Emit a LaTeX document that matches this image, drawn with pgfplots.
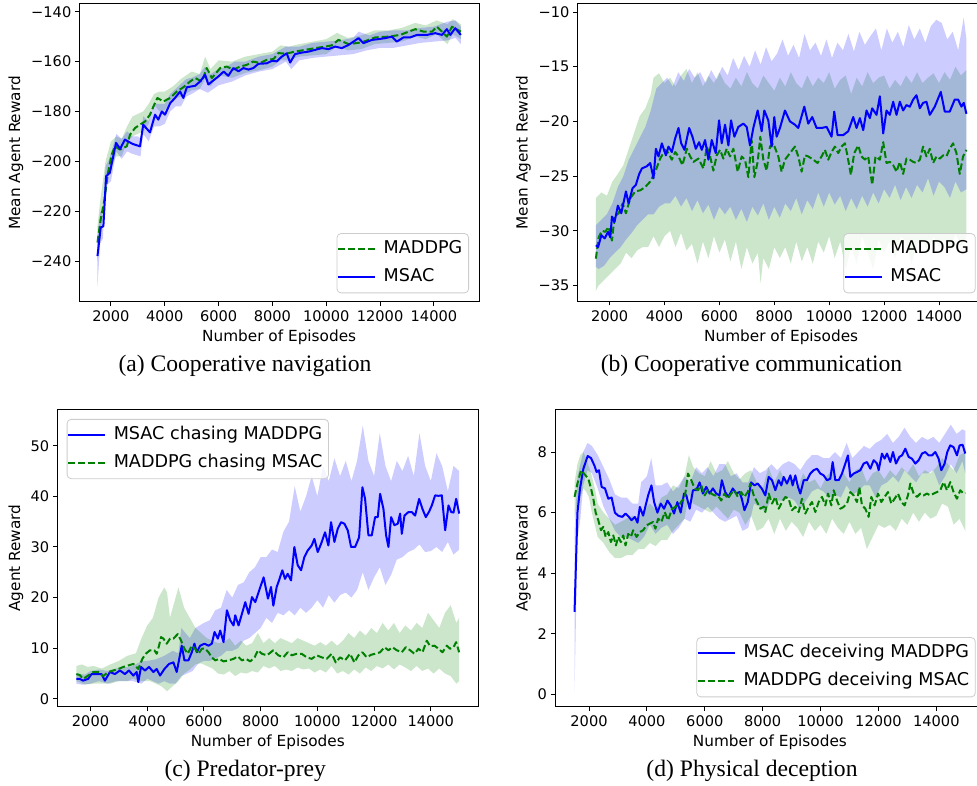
\documentclass[border=0pt]{standalone}
\usepackage{pgfplots}
\pgfplotsset{compat=1.18}
\usepackage{fontspec}
\setmainfont{DejaVu Sans}
\newfontfamily\capfont{Liberation Serif}
\definecolor{mplblue}{rgb}{0,0,1}
\definecolor{mplgreen}{rgb}{0,0.5,0}
\pgfplotsset{
 panel/.style={
  scale only axis, xmin=825, xmax=15675,
  xtick={2000,4000,6000,8000,10000,12000,14000},
  scaled x ticks=false, scaled y ticks=false,
  /pgf/number format/set thousands separator={},
  /pgf/number format/assume math mode=true,
  tick pos=left, tick align=outside, major tick length=2pt,
  every tick/.style={black, line width=0.5pt},
  axis line style={line width=0.5pt, black},
  tick label style={font=\fontsize{7.3}{8.5}\selectfont},
  xticklabel style={anchor=north, inner sep=0pt, yshift=-2.15pt},
  yticklabel style={anchor=east, inner sep=0pt, xshift=-1.8pt},
  label style={font=\fontsize{7.65}{9}\selectfont},
  xlabel={Number of Episodes},
  legend cell align=left,
  legend image code/.code={\draw[##1] (0pt,0pt) -- (18.5pt,0pt);},
  legend style={font=\fontsize{8.8}{10}\selectfont, draw=black!20, rounded corners=2pt,
    fill=white, fill opacity=0.8, text opacity=1, inner xsep=0pt, inner ysep=2.2pt,
    row sep=2.45pt, /tikz/column sep=0.7pt,
    nodes={inner xsep=3.15pt, inner ysep=1.5pt, text height=6.5pt, text depth=1.9pt}},
 },
 mean/.style={line width=1pt, line join=round},
 dash/.style={dash pattern=on 3.45pt off 1.5pt},
 band/.style={draw=none, fill opacity=0.2, forget plot},
}
\begin{document}
\begin{tikzpicture}
\useasboundingbox (0,0) rectangle (488.5pt,392.5pt);
% ---------------- (a) ----------------
\begin{axis}[panel, at={(39.65pt,241.65pt)}, anchor=south west, width=199.85pt, height=148.85pt,
  ymin=-256.3, ymax=-136.9, ytick={-240,-220,-200,-180,-160,-140},
  yticklabels={−240,−220,−200,−180,−160,−140},
  ylabel={Mean Agent Reward},
  xlabel style={at={(axis description cs:0.5,-0.1203)}, anchor=center},
  ylabel style={at={(axis description cs:-0.1584,0.5)}, anchor=center},
  legend style={at={(1,0)}, anchor=south east, xshift=-5pt, yshift=4.2pt}]
\addplot[band, fill=mplgreen] table[row sep=\\]{x y\\
1500 -226\\ 1600 -216\\ 1700 -208\\ 1800 -200\\ 2000 -192\\ 2200 -190\\ 2400 -191\\ 2600 -186\\ 2800 -182\\ 3000 -181\\ 3200 -180\\ 3400 -177\\ 3600 -173\\ 3800 -172\\ 4000 -172\\ 4300 -170\\ 4600 -167\\ 5000 -164\\ 5300 -165\\ 5500 -158\\ 5700 -163\\ 6000 -159.5\\ 6500 -160\\ 7000 -158\\ 7500 -157\\ 8000 -156\\ 8300 -153.5\\ 8600 -154\\ 9000 -153\\ 9500 -152\\ 10000 -151\\ 10400 -148.5\\ 10800 -150.5\\ 11300 -149.5\\ 11800 -147.5\\ 12300 -147.5\\ 12800 -146.5\\ 13300 -144.5\\ 13700 -145.5\\ 14100 -143.5\\ 14500 -145\\ 14700 -143\\ 15000 -145\\
15000 -151\\ 14700 -149\\ 14500 -153\\ 14100 -149\\ 13700 -151\\ 13300 -150\\ 12800 -152\\ 12300 -152.5\\ 11800 -153\\ 11300 -155\\ 10800 -155.5\\ 10400 -154\\ 10000 -157\\ 9500 -157.5\\ 9000 -158\\ 8600 -159.5\\ 8300 -159.5\\ 8000 -162\\ 7500 -163.5\\ 7000 -164.5\\ 6500 -166.5\\ 6000 -165.5\\ 5700 -170\\ 5500 -167\\ 5300 -171\\ 5000 -171.5\\ 4600 -174\\ 4300 -175\\ 4000 -179.5\\ 3800 -180\\ 3600 -177\\ 3400 -185\\ 3200 -188\\ 3000 -189\\ 2800 -190\\ 2600 -192\\ 2400 -198\\ 2200 -198\\ 2000 -202\\ 1800 -209\\ 1700 -222\\ 1600 -230\\ 1500 -240\\};
\addplot[band, fill=mplblue] table[row sep=\\]{x y\\
1500 -230\\ 1600 -220\\ 1700 -222\\ 1800 -202\\ 1900 -200\\ 2000 -197\\ 2200 -189\\ 2400 -191\\ 2600 -188\\ 2800 -190\\ 3000 -190\\ 3100 -191\\ 3200 -182\\ 3400 -184\\ 3600 -177\\ 3800 -177\\ 4000 -177\\ 4200 -173\\ 4400 -171\\ 4600 -169\\ 4800 -167\\ 5000 -166.5\\ 5300 -165\\ 5500 -162\\ 5700 -165\\ 6000 -163\\ 6300 -162\\ 6600 -160\\ 7000 -160\\ 7500 -158\\ 8000 -157\\ 8500 -154\\ 9000 -154\\ 9500 -152.5\\ 10000 -152\\ 10500 -151.5\\ 11000 -150.5\\ 11200 -148\\ 11600 -149.5\\ 12000 -148\\ 12500 -147.5\\ 13000 -147.5\\ 13500 -146.5\\ 14000 -146\\ 14500 -144\\ 14800 -143.5\\ 15000 -146\\
15000 -153\\ 14800 -150.5\\ 14500 -151.5\\ 14000 -152\\ 13500 -152.5\\ 13000 -153.5\\ 12500 -154.5\\ 12000 -154.5\\ 11500 -155.5\\ 11000 -157\\ 10500 -157.5\\ 10000 -158\\ 9500 -158.5\\ 9000 -159.5\\ 8700 -163\\ 8500 -160\\ 8000 -163\\ 7500 -164\\ 7000 -165.5\\ 6500 -168\\ 6000 -169.5\\ 5600 -172.5\\ 5300 -171\\ 5000 -173\\ 4800 -174\\ 4600 -178\\ 4400 -178\\ 4200 -180\\ 4000 -185\\ 3800 -186\\ 3600 -186\\ 3400 -192\\ 3200 -189\\ 3100 -198\\ 2800 -197\\ 2600 -196\\ 2400 -199\\ 2200 -196\\ 2000 -208\\ 1800 -210\\ 1700 -231\\ 1600 -233\\ 1500 -250\\};
\addplot[mean, dash, mplgreen] table[row sep=\\]{x y\\
1500 -232.6\\ 1620 -223.3\\ 1760 -215.3\\ 1890 -204.6\\ 2030 -197.3\\ 2150 -194\\ 2340 -195.3\\ 2590 -194\\ 2710 -189.3\\ 2900 -186.6\\ 3080 -185.3\\ 3270 -184\\ 3450 -181.3\\ 3580 -178\\ 3725 -174.6\\ 3950 -176\\ 4200 -174.6\\ 4450 -172\\ 4690 -170.3\\ 4940 -168\\ 5130 -166.6\\ 5380 -168\\ 5560 -162.6\\ 5750 -166.6\\ 6060 -162.6\\ 6300 -162\\ 6550 -163.2\\ 6800 -162\\ 7050 -161.3\\ 7290 -160\\ 7540 -160.6\\ 7790 -159.3\\ 8040 -159\\ 8220 -156.6\\ 8470 -156.8\\ 8600 -156.6\\ 8840 -156\\ 9220 -155.3\\ 9590 -154.6\\ 9960 -154\\ 10200 -153.5\\ 10455 -151.3\\ 10830 -153\\ 11320 -152.3\\ 11820 -150.3\\ 12310 -150\\ 12750 -149.3\\ 13060 -148\\ 13310 -147\\ 13620 -148\\ 13930 -148\\ 14110 -146\\ 14300 -148\\ 14480 -150\\ 14670 -146\\ 15000 -148\\};
\addlegendentry{MADDPG}
\addplot[mean, mplblue] table[row sep=\\]{x y\\
1500 -238\\ 1620 -226.6\\ 1720 -226\\ 1820 -206\\ 1960 -204.6\\ 2190 -192.6\\ 2340 -195\\ 2520 -191.3\\ 2800 -193\\ 3080 -194\\ 3200 -185.3\\ 3450 -188.4\\ 3640 -181.3\\ 3760 -183.3\\ 3890 -180\\ 4010 -181.3\\ 4200 -176.7\\ 4380 -174.6\\ 4570 -172\\ 4690 -174.6\\ 4820 -170.3\\ 5130 -169.7\\ 5310 -168\\ 5500 -165.3\\ 5620 -169.2\\ 5800 -167.6\\ 5990 -166\\ 6190 -164\\ 6360 -165.7\\ 6550 -162.6\\ 6740 -163.9\\ 6920 -162.6\\ 7110 -163.2\\ 7290 -162.6\\ 7480 -160.9\\ 7790 -160.7\\ 7980 -159.7\\ 8160 -159.9\\ 8350 -158\\ 8530 -156.7\\ 8660 -160.4\\ 8840 -157\\ 9090 -156.4\\ 9340 -156\\ 9590 -155.3\\ 9840 -154.6\\ 10080 -155\\ 10330 -154\\ 10580 -154.6\\ 10830 -153.3\\ 11200 -150.6\\ 11380 -152.6\\ 11700 -151.3\\ 11940 -151\\ 12190 -150.6\\ 12440 -150\\ 12620 -152\\ 12870 -150.3\\ 13120 -150.3\\ 13370 -149.3\\ 13740 -149.3\\ 14050 -148.6\\ 14300 -149.3\\ 14480 -147\\ 14610 -149.3\\ 14790 -146.6\\ 15000 -149.3\\};
\addlegendentry{MSAC}
\end{axis}
% ---------------- (b) ----------------
\begin{axis}[panel, at={(288.68pt,241.75pt)}, anchor=south west, width=203.8pt, height=148.85pt,
  ymin=-36.47, ymax=-9.24, ytick={-35,-30,-25,-20,-15,-10},
  yticklabels={−35,−30,−25,−20,−15,−10},
  ylabel={Mean Agent Reward},
  xlabel style={at={(axis description cs:0.5,-0.121)}, anchor=center},
  ylabel style={at={(axis description cs:-0.1325,0.5)}, anchor=center},
  legend style={at={(1,0)}, anchor=south east, xshift=-4.65pt, yshift=4.1pt}]
\addplot[band, fill=mplgreen] table[row sep=\\]{x y\\
1500 -27\\ 1700 -26.5\\ 1900 -26.8\\ 2100 -25.5\\ 2300 -24.8\\ 2500 -24\\ 2700 -22.5\\ 2900 -21\\ 3100 -19.5\\ 3300 -18.8\\ 3500 -17.5\\ 3600 -16\\ 3800 -15.6\\ 4000 -16.5\\ 4200 -16\\ 4400 -16.8\\ 4600 -15.8\\ 4800 -15.2\\ 5000 -16.5\\ 5200 -15.5\\ 5400 -16.8\\ 5600 -15.8\\ 5800 -16.5\\ 6000 -15.5\\ 6200 -16.5\\ 6400 -17\\ 6600 -16\\ 6800 -16.8\\ 7000 -15.5\\ 7200 -16.5\\ 7400 -17\\ 7600 -15.8\\ 7800 -16.5\\ 8000 -17.2\\ 8200 -16\\ 8400 -16.8\\ 8600 -15.5\\ 8800 -16.5\\ 9000 -17\\ 9200 -15.8\\ 9400 -16.8\\ 9600 -16\\ 9800 -16.5\\ 10000 -15.5\\ 10200 -17\\ 10400 -16.2\\ 10600 -15.8\\ 10800 -17.5\\ 11000 -16\\ 11200 -16.8\\ 11400 -15.5\\ 11600 -16.5\\ 11800 -16\\ 12000 -15.8\\ 12200 -17\\ 12400 -16.2\\ 12600 -16.8\\ 12800 -15.8\\ 13000 -16.5\\ 13200 -15.5\\ 13400 -16.5\\ 13600 -16\\ 13800 -15.6\\ 14000 -16.5\\ 14200 -15.5\\ 14400 -16.2\\ 14600 -15\\ 14800 -15.8\\ 15000 -15.3\\
15000 -30.5\\ 14800 -31.5\\ 14600 -30.2\\ 14400 -32\\ 14200 -30.8\\ 14000 -31.5\\ 13800 -30.5\\ 13600 -32\\ 13400 -30.8\\ 13200 -31.2\\ 13000 -33\\ 12800 -31\\ 12600 -30.5\\ 12400 -32.5\\ 12200 -31\\ 12000 -32\\ 11800 -30.8\\ 11600 -33.5\\ 11400 -32\\ 11200 -30.5\\ 11000 -33\\ 10800 -31.5\\ 10600 -33.5\\ 10400 -31\\ 10200 -32.5\\ 10000 -30.5\\ 9800 -32\\ 9600 -31\\ 9400 -33\\ 9200 -31.5\\ 9000 -32.8\\ 8800 -31\\ 8600 -33\\ 8400 -31.5\\ 8200 -32.5\\ 8000 -31.5\\ 7800 -33.5\\ 7600 -32.5\\ 7500 -34.8\\ 7400 -32\\ 7200 -33\\ 7000 -31.5\\ 6800 -33.5\\ 6600 -31\\ 6400 -32.8\\ 6200 -30.8\\ 6000 -32\\ 5800 -30.5\\ 5600 -32.5\\ 5400 -31\\ 5200 -33\\ 5000 -31.2\\ 4800 -31.8\\ 4600 -30.2\\ 4400 -31.5\\ 4200 -30\\ 4000 -30.5\\ 3800 -31.5\\ 3600 -30.5\\ 3400 -31.5\\ 3200 -31.5\\ 3000 -31.8\\ 2800 -32.5\\ 2600 -32\\ 2400 -33\\ 2200 -33.5\\ 2000 -34\\ 1800 -34.5\\ 1600 -35\\ 1500 -35.5\\};
\addplot[band, fill=mplblue] table[row sep=\\]{x y\\
1500 -29.5\\ 1700 -29\\ 1900 -28.5\\ 2100 -27.5\\ 2300 -26\\ 2500 -25\\ 2700 -23.5\\ 2900 -22.5\\ 3100 -21.5\\ 3300 -20.5\\ 3500 -19\\ 3700 -17\\ 3900 -16.5\\ 4100 -16\\ 4300 -16.8\\ 4500 -15.5\\ 4700 -16.3\\ 4900 -15.2\\ 5100 -16\\ 5300 -15.5\\ 5500 -16.5\\ 5700 -15.3\\ 5900 -16.2\\ 6100 -15\\ 6300 -15.8\\ 6500 -14.2\\ 6700 -15.3\\ 6900 -14\\ 7100 -15\\ 7300 -13.5\\ 7500 -14.8\\ 7700 -13.2\\ 7900 -14.5\\ 8100 -13.8\\ 8300 -12.5\\ 8500 -14\\ 8700 -13\\ 8900 -14.2\\ 9100 -12\\ 9300 -13.5\\ 9500 -12.8\\ 9700 -14\\ 9900 -12.5\\ 10100 -14.2\\ 10300 -12.8\\ 10500 -13.5\\ 10700 -12\\ 10900 -13.6\\ 11100 -11.8\\ 11300 -13\\ 11500 -12.2\\ 11700 -11.5\\ 11900 -13.5\\ 12100 -11.5\\ 12300 -12.8\\ 12500 -11.8\\ 12700 -13.2\\ 12900 -11.2\\ 13100 -12.5\\ 13300 -11.5\\ 13500 -12.8\\ 13700 -11.3\\ 13900 -10.7\\ 14100 -11\\ 14300 -12.5\\ 14500 -11.8\\ 14700 -13.5\\ 14900 -10.5\\ 15000 -12.5\\
15000 -26.2\\ 14800 -26.5\\ 14600 -25.5\\ 14400 -27\\ 14200 -26\\ 14000 -25.5\\ 13800 -26.8\\ 13600 -25.2\\ 13400 -26.5\\ 13200 -25.8\\ 13000 -27\\ 12800 -26\\ 12600 -27.2\\ 12400 -25.8\\ 12200 -27\\ 12000 -26.2\\ 11800 -27.5\\ 11600 -26.5\\ 11400 -27.8\\ 11200 -26.8\\ 11000 -28\\ 10800 -27\\ 10600 -28.2\\ 10400 -26.8\\ 10200 -27.6\\ 10000 -26.5\\ 9800 -27.8\\ 9600 -26.5\\ 9400 -28\\ 9200 -27.2\\ 9000 -28.5\\ 8800 -27\\ 8600 -28.2\\ 8400 -27.5\\ 8200 -28.8\\ 8000 -27.8\\ 7800 -29\\ 7600 -27.5\\ 7400 -28.6\\ 7200 -27.8\\ 7000 -29.2\\ 6800 -28\\ 6600 -29\\ 6400 -27.8\\ 6200 -28.5\\ 6000 -27.8\\ 5800 -29\\ 5600 -27.6\\ 5400 -28.4\\ 5200 -27.2\\ 5000 -28.2\\ 4800 -27\\ 4600 -27.8\\ 4400 -26.8\\ 4200 -27.5\\ 4000 -27.5\\ 3800 -27.8\\ 3600 -28.5\\ 3400 -28.5\\ 3200 -29\\ 3000 -29.5\\ 2800 -30.2\\ 2600 -30.8\\ 2400 -31.5\\ 2200 -32\\ 2000 -32.5\\ 1800 -33.2\\ 1600 -33.5\\ 1500 -33.3\\};
\addplot[mean, dash, mplgreen] table[row sep=\\]{x y\\
1500 -32.55\\ 1600 -30.6\\ 1720 -30.0\\ 1840 -30.1\\ 1960 -29.65\\ 2085 -30.9\\ 2180 -28.7\\ 2330 -28.4\\ 2473 -27.5\\ 2595 -28.4\\ 2750 -27.05\\ 2933 -26.4\\ 3115 -26.3\\ 3297 -26.0\\ 3479 -25.5\\ 3661 -24.6\\ 3842 -23.4\\ 4024 -22.6\\ 4145 -22.9\\ 4266 -23.5\\ 4388 -22.8\\ 4509 -23.2\\ 4654 -24.0\\ 4812 -22.5\\ 4933 -23.2\\ 5054 -23.7\\ 5236 -23.4\\ 5418 -24.3\\ 5539 -22.3\\ 5660 -23.2\\ 5781 -24.5\\ 5903 -23.1\\ 6024 -22.6\\ 6145 -23.4\\ 6266 -22.5\\ 6387 -23.2\\ 6509 -22.5\\ 6666 -24.6\\ 6812 -23.2\\ 6933 -23.5\\ 7054 -25.1\\ 7175 -21.7\\ 7272 -25.1\\ 7394 -23.7\\ 7490 -21.4\\ 7600 -23.5\\ 7721 -24.5\\ 7842 -22.3\\ 7963 -22.0\\ 8145 -23.2\\ 8267 -24.6\\ 8388 -23.5\\ 8570 -22.9\\ 8752 -22.3\\ 8873 -23.2\\ 8995 -24.6\\ 9116 -23.1\\ 9237 -23.2\\ 9419 -23.5\\ 9577 -23.8\\ 9722 -23.2\\ 9843 -22.6\\ 9965 -23.5\\ 10086 -22.8\\ 10208 -22.3\\ 10329 -22.9\\ 10450 -22.3\\ 10572 -22.0\\ 10669 -23.2\\ 10790 -24.9\\ 10911 -22.9\\ 11057 -22.2\\ 11178 -23.2\\ 11299 -23.5\\ 11421 -23.2\\ 11566 -25.8\\ 11687 -23.2\\ 11845 -23.5\\ 11967 -21.9\\ 12088 -23.8\\ 12209 -23.7\\ 12331 -24.0\\ 12452 -24.6\\ 12573 -23.7\\ 12694 -24.8\\ 12815 -23.4\\ 12937 -23.5\\ 13058 -23.7\\ 13179 -23.8\\ 13301 -23.5\\ 13422 -22.3\\ 13543 -23.2\\ 13665 -22.5\\ 13786 -23.8\\ 13907 -23.2\\ 14029 -23.4\\ 14150 -23.1\\ 14271 -23.2\\ 14392 -22.5\\ 14514 -22.0\\ 14635 -22.9\\ 14756 -24.8\\ 14877 -23.2\\ 15000 -22.6\\};
\addlegendentry{MADDPG}
\addplot[mean, mplblue] table[row sep=\\]{x y\\
1500 -31.33\\ 1580 -31.5\\ 1700 -30.4\\ 1820 -30.7\\ 1940 -30.1\\ 2025 -30.6\\ 2085 -28.7\\ 2180 -29.2\\ 2300 -27.7\\ 2425 -28.4\\ 2595 -26.4\\ 2690 -27.5\\ 2836 -26.1\\ 2957 -25.8\\ 3078 -24.8\\ 3176 -24.3\\ 3357 -24.1\\ 3479 -23.8\\ 3600 -25.2\\ 3685 -22.5\\ 3782 -23.2\\ 3903 -22.0\\ 4048 -23.1\\ 4145 -22.3\\ 4266 -22.8\\ 4388 -21.55\\ 4509 -20.6\\ 4606 -22.0\\ 4727 -22.6\\ 4897 -20.6\\ 5018 -21.4\\ 5139 -22.5\\ 5260 -21.9\\ 5357 -22.6\\ 5478 -21.7\\ 5600 -23.5\\ 5721 -21.7\\ 5866 -22.9\\ 5987 -19.9\\ 6084 -22.0\\ 6205 -20.3\\ 6327 -22.2\\ 6424 -19.9\\ 6545 -21.4\\ 6690 -20.5\\ 6872 -20.2\\ 6994 -20.5\\ 7115 -22.2\\ 7236 -20.6\\ 7394 -19.0\\ 7539 -20.9\\ 7636 -19.0\\ 7781 -19.9\\ 7903 -22.3\\ 7999 -19.6\\ 8085 -21.4\\ 8206 -20.6\\ 8388 -19.0\\ 8570 -20.0\\ 8752 -20.3\\ 8873 -20.6\\ 9092 -18.65\\ 9237 -20.2\\ 9383 -19.6\\ 9540 -20.6\\ 9722 -20.6\\ 9904 -20.5\\ 10086 -21.4\\ 10183 -19.1\\ 10305 -21.25\\ 10511 -21.25\\ 10693 -20.9\\ 10875 -19.6\\ 10996 -20.6\\ 11117 -19.7\\ 11239 -20.8\\ 11360 -19.0\\ 11481 -19.7\\ 11566 -18.8\\ 11724 -19.4\\ 11845 -17.7\\ 11967 -21.1\\ 12088 -19.0\\ 12209 -19.4\\ 12331 -18.2\\ 12452 -19.4\\ 12573 -18.2\\ 12694 -19.0\\ 12815 -18.5\\ 12937 -18.65\\ 13058 -18.0\\ 13179 -17.6\\ 13301 -18.8\\ 13422 -18.3\\ 13543 -18.2\\ 13665 -19.4\\ 13846 -18.65\\ 13968 -17.9\\ 14065 -17.3\\ 14210 -19.1\\ 14392 -19.1\\ 14574 -18.0\\ 14696 -18.0\\ 14817 -18.65\\ 14902 -18.3\\ 15000 -19.3\\};
\addlegendentry{MSAC}
\end{axis}
% ---------------- (c) ----------------
\begin{axis}[panel, at={(28.6pt,39.15pt)}, anchor=south west, width=210.55pt, height=148.7pt,
  ymin=-1.55, ymax=57.2, ytick={0,10,20,30,40,50},
  ylabel={Agent Reward},
  xlabel style={at={(axis description cs:0.5,-0.1204)}, anchor=center},
  ylabel style={at={(axis description cs:-0.0978,0.5)}, anchor=center},
  legend style={at={(0,1)}, anchor=north west, xshift=4.75pt, yshift=-4.85pt}]
\addplot[band, fill=mplblue] table[row sep=\\]{x y\\
1500 5\\ 1800 4.8\\ 2000 5.5\\ 2300 5.8\\ 2600 5.5\\ 2900 6\\ 3200 6.2\\ 3500 6.5\\ 3800 7.5\\ 4000 7.5\\ 4300 7.8\\ 4600 8.5\\ 4900 9.5\\ 5100 9\\ 5200 14\\ 5500 12\\ 5700 14\\ 6000 15\\ 6200 15.5\\ 6400 17.5\\ 6600 18\\ 6800 21.5\\ 7000 20\\ 7200 22.5\\ 7400 23\\ 7600 25\\ 7800 26\\ 8000 28\\ 8200 28\\ 8400 29.5\\ 8600 29\\ 8800 33\\ 9000 35\\ 9200 42\\ 9400 37\\ 9600 40\\ 9800 44\\ 10000 40\\ 10200 46\\ 10400 43\\ 10600 47.5\\ 10800 44\\ 11000 47\\ 11200 43\\ 11400 47\\ 11600 54\\ 11800 47\\ 12000 44\\ 12200 52.5\\ 12400 46\\ 12600 43\\ 12800 47\\ 13000 45\\ 13200 48\\ 13400 44\\ 13600 52.5\\ 13800 46\\ 14000 43\\ 14200 48.5\\ 14400 46\\ 14600 41\\ 14800 46\\ 15000 45\\
15000 29.5\\ 14800 28.5\\ 14600 31\\ 14400 29\\ 14200 30\\ 14000 29.2\\ 13800 29\\ 13600 30.5\\ 13400 29.5\\ 13200 29\\ 13000 28\\ 12800 27.5\\ 12600 24.5\\ 12400 22.5\\ 12200 26\\ 12000 24\\ 11800 21.5\\ 11600 25\\ 11400 21.5\\ 11200 20\\ 11000 21\\ 10800 20.5\\ 10600 19\\ 10400 20.5\\ 10200 18\\ 10000 19.5\\ 9800 18\\ 9600 17\\ 9400 18\\ 9200 16.5\\ 9000 17.5\\ 8800 16.5\\ 8600 17\\ 8400 15\\ 8200 16\\ 8000 14\\ 7800 13\\ 7600 12\\ 7400 11.5\\ 7200 10\\ 7000 9.5\\ 6800 9.5\\ 6600 8.5\\ 6400 8\\ 6200 7.5\\ 6000 7.5\\ 5800 7\\ 5600 5.5\\ 5400 5\\ 5200 4.5\\ 5000 3\\ 4800 3\\ 4600 3.5\\ 4400 3\\ 4200 3.5\\ 4000 4\\ 3800 3\\ 3500 3.5\\ 3200 3.5\\ 2900 3.5\\ 2600 3\\ 2300 3.5\\ 2000 3\\ 1700 2.8\\ 1500 3\\};
\addplot[band, fill=mplgreen] table[row sep=\\]{x y\\
1500 6.5\\ 1700 6.8\\ 1900 6.3\\ 2100 6.5\\ 2400 6\\ 2700 6.8\\ 3000 7.5\\ 3300 8.5\\ 3600 9\\ 3800 12\\ 4000 14.5\\ 4200 16\\ 4400 20\\ 4600 22\\ 4700 21\\ 4800 16\\ 5000 20\\ 5100 22\\ 5300 18\\ 5500 16\\ 5700 14\\ 5900 13\\ 6100 12\\ 6300 11.5\\ 6500 11\\ 6700 11.2\\ 6900 12\\ 7100 10.5\\ 7300 11.5\\ 7500 10.5\\ 7700 11\\ 7900 13\\ 8100 11\\ 8300 12\\ 8500 11\\ 8700 12\\ 8900 11.5\\ 9100 11\\ 9300 12\\ 9500 11.5\\ 9700 11\\ 9900 10.5\\ 10100 11.2\\ 10300 10.5\\ 10500 11.5\\ 10700 10.5\\ 10900 11.5\\ 11100 13\\ 11300 12\\ 11500 13.5\\ 11700 12.5\\ 11900 14\\ 12100 13\\ 12300 15\\ 12500 13.5\\ 12700 15\\ 12900 13\\ 13100 14.5\\ 13300 13.5\\ 13500 15\\ 13700 14\\ 13900 17\\ 14100 15.5\\ 14300 14\\ 14500 17\\ 14700 18.5\\ 14900 15\\ 15000 16\\
15000 3.5\\ 14900 3\\ 14700 4.5\\ 14500 5\\ 14300 6\\ 14100 5\\ 13900 6\\ 13700 5.5\\ 13500 6.5\\ 13300 5.5\\ 13100 6.2\\ 12900 6.8\\ 12700 5.8\\ 12500 6.8\\ 12300 6\\ 12100 6.5\\ 11900 5.5\\ 11700 6.2\\ 11500 5\\ 11300 5.8\\ 11100 4.8\\ 10900 5.5\\ 10700 5\\ 10500 6.5\\ 10300 5.2\\ 10100 5.8\\ 9900 5.2\\ 9700 6\\ 9500 5.8\\ 9300 6.2\\ 9100 5.5\\ 8900 5.8\\ 8700 5.5\\ 8500 6.5\\ 8300 6\\ 8100 6.5\\ 7900 5.2\\ 7700 5.5\\ 7500 5\\ 7300 5.2\\ 7100 4.5\\ 6900 5.5\\ 6700 4.8\\ 6500 5\\ 6300 6\\ 6100 6.5\\ 5900 7\\ 5700 6.8\\ 5500 5.8\\ 5300 5\\ 5100 3.5\\ 4900 2.5\\ 4700 1.5\\ 4500 2.5\\ 4300 3\\ 4100 3.5\\ 3900 3.5\\ 3700 3.5\\ 3500 4\\ 3300 3.5\\ 3000 3.5\\ 2700 3\\ 2400 3\\ 2100 3\\ 1800 2.8\\ 1500 3.5\\};
\addplot[mean, mplblue] table[row sep=\\]{x y\\
1500 3.95\\ 1620 3.95\\ 1740 3.6\\ 1917 3.95\\ 2035 4.9\\ 2212 4.9\\ 2389 4.9\\ 2507 3.6\\ 2684 5.3\\ 2860 4.9\\ 3037 5.6\\ 3214 4.9\\ 3355 5.6\\ 3509 4.6\\ 3626 5.3\\ 3685 3.3\\ 3780 6.3\\ 3921 5.6\\ 4062 6.3\\ 4216 5.3\\ 4334 5.9\\ 4452 4.6\\ 4605 5.9\\ 4770 6.9\\ 4923 7.2\\ 5040 5.3\\ 5217 10.5\\ 5312 7.6\\ 5453 7.6\\ 5571 9.2\\ 5665 10.9\\ 5748 9.2\\ 5866 10.5\\ 6019 10.9\\ 6160 10.5\\ 6278 10.9\\ 6373 13.2\\ 6490 11.9\\ 6573 13.5\\ 6690 11.2\\ 6809 17.5\\ 6927 15.5\\ 7044 14.5\\ 7103 16.5\\ 7221 14.5\\ 7339 16.8\\ 7457 19.1\\ 7575 16.8\\ 7693 20.1\\ 7810 19.1\\ 7928 21.1\\ 8105 24.0\\ 8258 19.8\\ 8365 22.1\\ 8447 18.4\\ 8565 22.1\\ 8647 23.4\\ 8765 25.4\\ 8859 23.7\\ 8953 24.7\\ 9071 23.4\\ 9188 30.0\\ 9306 26.4\\ 9424 25.4\\ 9541 28.0\\ 9659 29.3\\ 9800 30.3\\ 9894 31.6\\ 10012 29.0\\ 10129 30.6\\ 10271 32.9\\ 10388 30.3\\ 10482 34.9\\ 10600 31.0\\ 10718 33.6\\ 10835 34.9\\ 10953 34.6\\ 11071 33.3\\ 11188 30.0\\ 11330 30.0\\ 11471 31.9\\ 11588 41.8\\ 11682 39.5\\ 11800 32.3\\ 11918 32.3\\ 12035 35.9\\ 12130 35.9\\ 12212 40.5\\ 12330 37.5\\ 12424 32.3\\ 12506 30.0\\ 12600 35.9\\ 12718 34.3\\ 12835 34.6\\ 12918 36.6\\ 12977 32.6\\ 13071 36.2\\ 13212 36.9\\ 13329 36.9\\ 13447 36.2\\ 13588 39.5\\ 13706 37.5\\ 13824 35.9\\ 13941 37.0\\ 14035 38.2\\ 14153 40.2\\ 14270 40.1\\ 14388 40.2\\ 14506 33.3\\ 14624 38.2\\ 14718 36.9\\ 14800 36.8\\ 14894 39.5\\ 15000 36.6\\};
\addlegendentry{MSAC chasing MADDPG}
\addplot[mean, dash, mplgreen] table[row sep=\\]{x y\\
1500 4.9\\ 1620 4.7\\ 1740 3.95\\ 1917 4.6\\ 2094 5.3\\ 2271 5.3\\ 2448 4.5\\ 2625 5.3\\ 2801 5.6\\ 2978 5.9\\ 3155 6.3\\ 3332 6.6\\ 3509 6.9\\ 3685 5.9\\ 3827 7.9\\ 3945 8.9\\ 4098 9.6\\ 4251 9.6\\ 4334 8.9\\ 4416 10.5\\ 4487 12.2\\ 4570 11.9\\ 4688 10.9\\ 4805 11.9\\ 4923 11.9\\ 5076 12.8\\ 5194 11.5\\ 5312 9.9\\ 5430 8.9\\ 5571 10.5\\ 5689 9.9\\ 5807 8.9\\ 5925 9.9\\ 6043 9.9\\ 6160 9.2\\ 6278 8.2\\ 6396 7.6\\ 6537 7.9\\ 6690 7.4\\ 6867 7.6\\ 7044 7.9\\ 7198 8.4\\ 7339 7.6\\ 7480 7.9\\ 7633 7.4\\ 7787 8.2\\ 7905 9.6\\ 8046 8.9\\ 8223 8.6\\ 8447 9.6\\ 8624 8.6\\ 8800 8.2\\ 8953 9.2\\ 9094 8.6\\ 9271 8.9\\ 9447 8.9\\ 9624 8.2\\ 9800 7.9\\ 9976 8.6\\ 10153 8.2\\ 10329 7.9\\ 10506 8.9\\ 10647 7.2\\ 10800 8.2\\ 10976 7.6\\ 11153 8.9\\ 11306 7.2\\ 11447 8.6\\ 11588 9.2\\ 11741 8.2\\ 11894 8.7\\ 12035 8.9\\ 12212 9.2\\ 12365 10.2\\ 12506 9.6\\ 12647 10.2\\ 12800 9.6\\ 12977 9.2\\ 13118 10.2\\ 13270 9.6\\ 13423 8.9\\ 13565 9.9\\ 13706 9.2\\ 13859 11.5\\ 13976 10.4\\ 14129 10.5\\ 14270 9.9\\ 14412 9.2\\ 14565 10.5\\ 14682 9.9\\ 14800 10.2\\ 14894 11.2\\ 15000 9.2\\};
\addlegendentry{MADDPG chasing MSAC}
\end{axis}
% ---------------- (d) ----------------
\begin{axis}[panel, at={(277.5pt,39.15pt)}, anchor=south west, width=214.9pt, height=148.7pt,
  ymin=-0.4, ymax=9.41, ytick={0,2,4,6,8},
  ylabel={Agent Reward},
  xlabel style={at={(axis description cs:0.5,-0.1204)}, anchor=center},
  ylabel style={at={(axis description cs:-0.0738,0.5)}, anchor=center},
  legend style={at={(1,0)}, anchor=south east, xshift=-4.55pt, yshift=4.7pt}]
\addplot[band, fill=mplblue] table[row sep=\\]{x y\\
1500 5.4\\ 1600 7.2\\ 1700 7.6\\ 1800 8.0\\ 1950 8.3\\ 2100 8.2\\ 2300 7.9\\ 2500 7.5\\ 2700 7.1\\ 2900 6.6\\ 3100 6.5\\ 3300 6.5\\ 3500 6.3\\ 3700 6.3\\ 3800 7.0\\ 4000 7.2\\ 4150 7.8\\ 4300 6.9\\ 4500 6.9\\ 4700 7.0\\ 4900 6.7\\ 5100 6.9\\ 5300 7.2\\ 5500 7.0\\ 5700 7.5\\ 5900 7.3\\ 6100 7.5\\ 6300 7.2\\ 6500 7.6\\ 6700 7.6\\ 6900 7.2\\ 7100 7.3\\ 7300 7.0\\ 7500 7.0\\ 7700 7.5\\ 7900 7.3\\ 8100 7.4\\ 8300 7.6\\ 8500 7.4\\ 8700 7.6\\ 8900 7.7\\ 9100 7.6\\ 9300 7.4\\ 9500 7.7\\ 9700 7.9\\ 9900 7.9\\ 10100 7.8\\ 10300 7.8\\ 10500 8.0\\ 10700 7.8\\ 10900 8.3\\ 11100 7.8\\ 11300 8.0\\ 11500 8.2\\ 11700 8.1\\ 11900 8.3\\ 12100 8.4\\ 12300 8.6\\ 12500 8.3\\ 12700 8.5\\ 12900 8.8\\ 13100 8.5\\ 13300 8.3\\ 13500 8.5\\ 13700 8.4\\ 13900 8.5\\ 14100 8.3\\ 14300 8.6\\ 14500 8.9\\ 14700 8.6\\ 14900 8.75\\ 15000 8.7\\
15000 7.3\\ 14900 7.7\\ 14700 7.3\\ 14500 7.6\\ 14300 7.2\\ 14100 6.9\\ 13900 7.4\\ 13700 7.3\\ 13500 7.3\\ 13300 7.0\\ 13100 7.2\\ 12900 7.4\\ 12700 7.0\\ 12500 7.2\\ 12300 7.0\\ 12100 6.9\\ 11900 6.5\\ 11700 6.9\\ 11500 6.9\\ 11300 6.7\\ 11100 6.6\\ 10900 6.9\\ 10700 6.5\\ 10500 6.6\\ 10300 6.5\\ 10100 6.7\\ 9900 6.8\\ 9700 6.7\\ 9500 6.4\\ 9300 6.1\\ 9100 6.4\\ 8900 6.5\\ 8700 6.4\\ 8500 6.4\\ 8300 6.5\\ 8100 6.0\\ 7900 6.2\\ 7700 6.3\\ 7500 5.5\\ 7300 5.4\\ 7100 5.9\\ 6900 5.8\\ 6700 5.7\\ 6500 5.8\\ 6300 6.0\\ 6100 6.2\\ 5900 6.0\\ 5700 6.1\\ 5500 5.7\\ 5300 5.8\\ 5100 5.5\\ 4900 5.3\\ 4700 5.6\\ 4500 5.5\\ 4300 5.3\\ 4100 5.6\\ 3900 5.2\\ 3700 5.0\\ 3500 5.1\\ 3300 5.2\\ 3100 5.2\\ 2900 5.4\\ 2700 5.8\\ 2500 6.2\\ 2300 6.8\\ 2100 7.3\\ 1950 7.4\\ 1800 6.9\\ 1700 5.8\\ 1600 5.1\\ 1500 0.1\\};
\addplot[band, fill=mplgreen] table[row sep=\\]{x y\\
1500 7.0\\ 1600 7.6\\ 1700 7.9\\ 1800 8.0\\ 1900 7.8\\ 2000 7.5\\ 2100 7.2\\ 2200 6.8\\ 2300 6.3\\ 2500 6.0\\ 2700 5.8\\ 2900 5.6\\ 3100 5.7\\ 3300 5.8\\ 3500 5.9\\ 3700 5.8\\ 3900 6.1\\ 4100 6.3\\ 4300 6.1\\ 4500 6.5\\ 4700 6.6\\ 4900 6.9\\ 5100 6.8\\ 5300 7.2\\ 5450 7.9\\ 5600 7.5\\ 5800 7.3\\ 6000 7.2\\ 6200 7.7\\ 6400 7.3\\ 6600 7.4\\ 6800 7.7\\ 7000 7.3\\ 7200 7.1\\ 7400 7.3\\ 7600 7.4\\ 7800 7.0\\ 8000 6.8\\ 8200 7.5\\ 8400 7.0\\ 8600 7.4\\ 8800 7.0\\ 9000 7.2\\ 9200 6.8\\ 9400 7.3\\ 9600 7.0\\ 9800 7.1\\ 10000 6.8\\ 10200 7.2\\ 10400 7.4\\ 10600 7.0\\ 10800 7.3\\ 11000 7.0\\ 11200 7.4\\ 11400 7.5\\ 11600 7.0\\ 11800 7.3\\ 12000 7.4\\ 12200 7.1\\ 12400 7.4\\ 12600 7.2\\ 12800 7.5\\ 13000 7.3\\ 13200 7.6\\ 13400 7.2\\ 13600 7.4\\ 13800 7.3\\ 14000 7.5\\ 14200 7.8\\ 14400 7.6\\ 14600 7.4\\ 14800 7.9\\ 15000 8.0\\
15000 5.4\\ 14800 5.8\\ 14600 5.6\\ 14400 6.2\\ 14200 6.3\\ 14000 5.9\\ 13800 5.8\\ 13600 6.0\\ 13400 5.7\\ 13200 6.0\\ 13000 5.6\\ 12800 5.8\\ 12600 5.4\\ 12400 5.6\\ 12200 5.5\\ 12000 5.6\\ 11800 5.2\\ 11600 4.8\\ 11400 5.5\\ 11200 5.3\\ 11000 5.7\\ 10800 5.3\\ 10600 5.5\\ 10400 5.8\\ 10200 5.3\\ 10000 5.6\\ 9800 5.4\\ 9600 5.7\\ 9400 5.2\\ 9200 5.5\\ 9000 5.7\\ 8800 5.4\\ 8600 5.8\\ 8400 5.3\\ 8200 5.8\\ 8000 5.5\\ 7800 5.4\\ 7600 5.9\\ 7400 5.6\\ 7200 6.0\\ 7000 6.1\\ 6800 5.8\\ 6600 6.0\\ 6400 6.2\\ 6200 6.0\\ 6000 6.1\\ 5800 6.2\\ 5600 6.3\\ 5450 6.6\\ 5300 5.8\\ 5100 5.6\\ 4900 5.4\\ 4700 5.1\\ 4500 5.1\\ 4300 4.9\\ 4100 5.0\\ 3900 4.8\\ 3700 4.8\\ 3500 4.6\\ 3300 4.6\\ 3100 4.5\\ 2900 4.5\\ 2700 4.7\\ 2500 5.0\\ 2300 5.2\\ 2200 5.6\\ 2100 6.0\\ 2000 6.5\\ 1900 6.7\\ 1800 6.8\\ 1700 6.5\\ 1600 6.3\\ 1500 5.8\\};
\addplot[mean, mplblue] table[row sep=\\]{x y\\
1500 2.73\\ 1600 6.0\\ 1690 6.8\\ 1805 7.45\\ 1954 7.87\\ 2069 7.8\\ 2184 7.56\\ 2264 7.34\\ 2344 7.4\\ 2436 6.85\\ 2551 6.8\\ 2666 6.46\\ 2780 6.5\\ 2895 6.0\\ 3010 5.9\\ 3147 5.86\\ 3262 5.97\\ 3377 5.86\\ 3469 5.75\\ 3583 5.86\\ 3675 5.67\\ 3756 6.19\\ 3870 5.9\\ 4042 6.57\\ 4157 6.9\\ 4249 6.35\\ 4364 6.0\\ 4478 6.3\\ 4593 6.13\\ 4708 6.4\\ 4823 6.24\\ 4937 5.97\\ 5052 6.35\\ 5167 6.0\\ 5282 6.63\\ 5362 6.57\\ 5477 6.13\\ 5591 6.74\\ 5706 6.74\\ 5821 7.0\\ 5936 6.63\\ 6050 6.85\\ 6165 6.63\\ 6280 6.8\\ 6395 6.63\\ 6509 6.57\\ 6590 7.07\\ 6704 6.68\\ 6819 6.52\\ 6968 6.8\\ 7083 6.63\\ 7198 6.68\\ 7278 6.46\\ 7370 6.08\\ 7485 6.35\\ 7600 7.0\\ 7714 6.9\\ 7829 6.96\\ 7966 6.8\\ 8092 6.57\\ 8207 7.18\\ 8322 7.07\\ 8438 6.74\\ 8553 7.07\\ 8645 6.9\\ 8725 7.18\\ 8840 6.96\\ 8956 7.23\\ 9036 6.9\\ 9128 7.23\\ 9220 6.85\\ 9301 6.63\\ 9416 7.07\\ 9531 7.07\\ 9646 7.29\\ 9762 7.4\\ 9877 7.45\\ 9992 7.29\\ 10107 7.23\\ 10222 7.07\\ 10337 7.12\\ 10418 7.67\\ 10510 7.07\\ 10625 7.07\\ 10740 7.29\\ 10855 7.62\\ 10947 7.89\\ 11028 7.18\\ 11143 7.29\\ 11258 7.34\\ 11374 7.4\\ 11489 7.62\\ 11604 7.67\\ 11719 7.45\\ 11834 7.73\\ 11949 7.62\\ 12007 7.4\\ 12122 7.95\\ 12214 7.78\\ 12295 7.95\\ 12410 7.67\\ 12502 8.0\\ 12606 7.62\\ 12721 7.84\\ 12813 7.89\\ 12928 8.11\\ 13043 7.84\\ 13158 7.78\\ 13273 7.62\\ 13389 7.73\\ 13504 7.95\\ 13619 8.0\\ 13734 7.89\\ 13849 7.89\\ 13964 8.0\\ 14079 7.78\\ 14171 7.4\\ 14286 7.62\\ 14378 8.0\\ 14480 8.22\\ 14597 8.16\\ 14712 7.89\\ 14804 8.22\\ 14908 8.24\\ 15000 7.95\\};
\addlegendentry{MSAC deceiving MADDPG}
\addplot[mean, dash, mplgreen] table[row sep=\\]{x y\\
1500 6.52\\ 1600 6.96\\ 1725 7.4\\ 1862 7.25\\ 1977 7.12\\ 2069 6.8\\ 2149 6.46\\ 2230 6.0\\ 2321 5.75\\ 2413 5.42\\ 2493 5.53\\ 2574 5.2\\ 2666 5.36\\ 2757 5.03\\ 2838 5.25\\ 2930 4.92\\ 3010 5.2\\ 3101 5.03\\ 3182 5.25\\ 3262 4.92\\ 3354 5.3\\ 3446 5.2\\ 3526 5.42\\ 3641 5.2\\ 3756 5.36\\ 3870 5.42\\ 3985 5.58\\ 4100 5.64\\ 4214 5.69\\ 4295 5.47\\ 4387 5.8\\ 4501 5.69\\ 4616 6.02\\ 4731 5.75\\ 4869 6.13\\ 4983 6.19\\ 5098 6.24\\ 5213 6.4\\ 5304 6.46\\ 5419 7.29\\ 5534 7.07\\ 5649 6.8\\ 5763 6.74\\ 5878 6.9\\ 5993 6.57\\ 6108 6.74\\ 6222 6.63\\ 6337 6.57\\ 6452 6.57\\ 6567 6.4\\ 6681 6.63\\ 6796 6.46\\ 6911 6.63\\ 7026 6.74\\ 7141 6.52\\ 7255 6.68\\ 7370 6.52\\ 7485 6.68\\ 7576 6.96\\ 7691 6.57\\ 7806 6.35\\ 7921 6.13\\ 8040 6.2\\ 8092 6.02\\ 8207 6.63\\ 8322 6.3\\ 8438 6.52\\ 8553 6.13\\ 8668 6.35\\ 8783 6.52\\ 8898 6.46\\ 9013 6.08\\ 9128 6.19\\ 9243 6.02\\ 9359 6.46\\ 9474 5.97\\ 9589 6.19\\ 9704 6.35\\ 9819 6.02\\ 9934 6.35\\ 10049 6.52\\ 10165 6.24\\ 10257 6.63\\ 10372 6.24\\ 10453 6.74\\ 10568 6.4\\ 10683 6.13\\ 10798 6.19\\ 10913 6.3\\ 11028 6.68\\ 11143 6.57\\ 11258 6.35\\ 11339 6.85\\ 11431 6.24\\ 11547 6.13\\ 11662 5.86\\ 11754 6.52\\ 11869 6.24\\ 11984 6.63\\ 12099 6.35\\ 12214 6.52\\ 12329 6.68\\ 12444 6.3\\ 12559 6.46\\ 12675 6.63\\ 12790 6.35\\ 12905 6.24\\ 13020 6.57\\ 13101 6.96\\ 13216 6.63\\ 13331 6.52\\ 13446 6.63\\ 13561 6.57\\ 13677 6.63\\ 13792 6.57\\ 13907 6.63\\ 14022 6.68\\ 14137 6.74\\ 14252 7.01\\ 14367 6.74\\ 14482 7.01\\ 14597 6.68\\ 14712 6.46\\ 14827 6.74\\ 14942 6.63\\ 15000 6.66\\};
\addlegendentry{MADDPG deceiving MSAC}
\end{axis}
% ---------------- captions ----------------
\node[font=\capfont\fontsize{11.8}{14}\selectfont, anchor=base] at (122.5pt,206.5pt) {(a) Cooperative navigation};
\node[font=\capfont\fontsize{11.8}{14}\selectfont, anchor=base] at (375.75pt,206.5pt) {(b) Cooperative communication};
\node[font=\capfont\fontsize{11.8}{14}\selectfont, anchor=base] at (122.6pt,4.25pt) {(c) Predator-prey};
\node[font=\capfont\fontsize{11.8}{14}\selectfont, anchor=base] at (376pt,4.25pt) {(d) Physical deception};
\end{tikzpicture}
\end{document}
